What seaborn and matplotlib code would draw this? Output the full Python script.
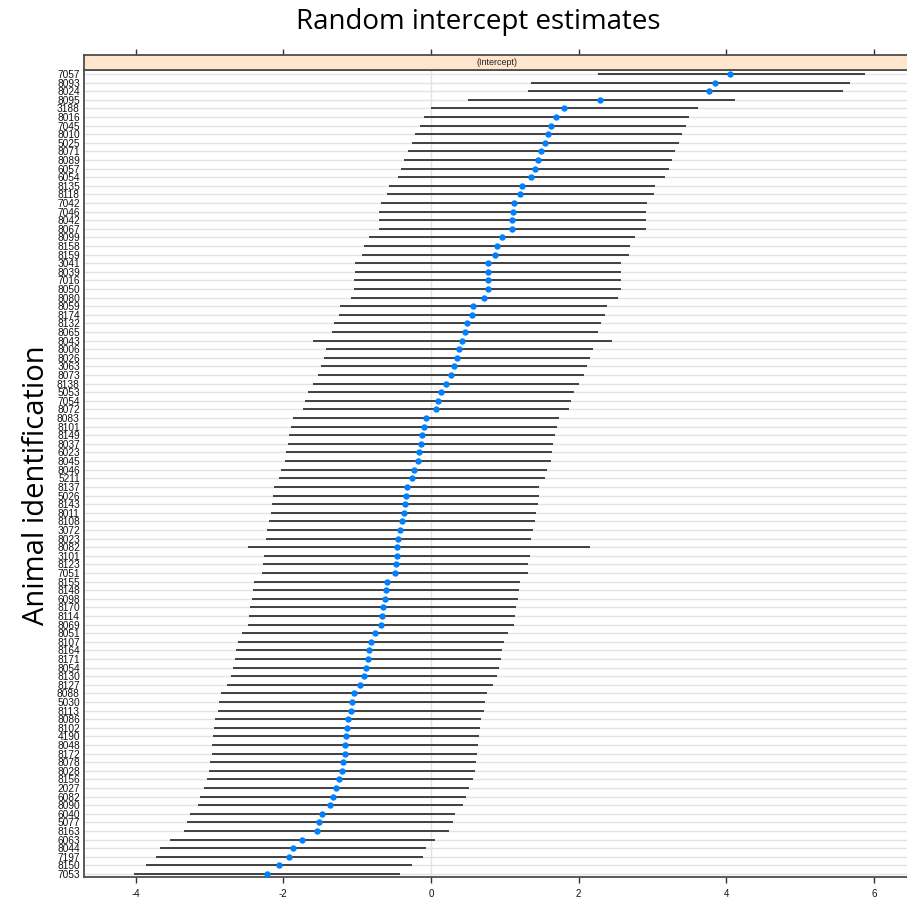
import matplotlib
matplotlib.use("Agg")
import matplotlib.pyplot as plt
import numpy as np
import pandas as pd
import seaborn as sns

### Data: random intercepts per animal (conditional modes with intervals)
ANIMALS = [
    "7057", "8093", "8024", "8095", "3188", "8016", "7045", "8010", "5025", "8071",
    "8089", "6057", "6054", "8135", "8118", "7042", "7046", "8042", "8067", "8099",
    "8158", "8159", "3041", "8039", "7016", "8050", "8080", "8059", "8174", "8132",
    "8065", "8043", "8006", "8026", "3063", "8073", "8138", "5053", "7054", "8072",
    "8083", "8101", "8149", "8037", "6023", "8045", "8046", "5211", "8137", "5026",
    "8143", "8011", "8108", "3072", "8023", "8082", "3101", "8123", "7051", "8155",
    "8148", "6098", "8170", "8114", "8069", "8051", "8107", "8164", "8171", "8054",
    "8130", "8127", "8088", "5030", "8113", "8086", "8102", "4190", "8048", "8172",
    "8078", "8028", "8156", "2027", "6082", "8090", "6040", "5077", "8163", "6063",
    "8044", "7197", "8150", "7053",
]

ESTIMATES = [
    4.05, 3.85, 3.77, 2.29, 1.80, 1.70, 1.63, 1.58, 1.55, 1.49,
    1.45, 1.41, 1.36, 1.23, 1.21, 1.12, 1.11, 1.10, 1.10, 0.96,
    0.89, 0.87, 0.77, 0.77, 0.77, 0.77, 0.72, 0.57, 0.56, 0.49,
    0.46, 0.42, 0.38, 0.35, 0.31, 0.27, 0.20, 0.14, 0.10, 0.07,
    -0.07, -0.09, -0.12, -0.14, -0.16, -0.18, -0.23, -0.26, -0.33, -0.34,
    -0.35, -0.37, -0.39, -0.42, -0.44, -0.46, -0.46, -0.48, -0.49, -0.60,
    -0.61, -0.62, -0.65, -0.66, -0.68, -0.76, -0.81, -0.84, -0.85, -0.88,
    -0.91, -0.96, -1.04, -1.07, -1.08, -1.12, -1.14, -1.15, -1.16, -1.17,
    -1.19, -1.21, -1.24, -1.29, -1.33, -1.37, -1.47, -1.51, -1.55, -1.74,
    -1.87, -1.92, -2.06, -2.22,
]

LOWER = [
    2.26, 1.35, 1.31, 0.50, 0.00, -0.10, -0.15, -0.22, -0.25, -0.31,
    -0.36, -0.40, -0.45, -0.57, -0.60, -0.68, -0.70, -0.71, -0.71, -0.84,
    -0.91, -0.93, -1.03, -1.03, -1.04, -1.04, -1.08, -1.23, -1.25, -1.31,
    -1.34, -1.60, -1.42, -1.45, -1.49, -1.53, -1.60, -1.66, -1.70, -1.73,
    -1.87, -1.89, -1.92, -1.94, -1.96, -1.98, -2.03, -2.06, -2.13, -2.14,
    -2.15, -2.17, -2.19, -2.22, -2.24, -2.48, -2.26, -2.28, -2.29, -2.40,
    -2.41, -2.42, -2.45, -2.46, -2.48, -2.56, -2.61, -2.64, -2.65, -2.68,
    -2.71, -2.76, -2.84, -2.87, -2.88, -2.92, -2.94, -2.95, -2.96, -2.97,
    -2.99, -3.01, -3.03, -3.08, -3.13, -3.16, -3.26, -3.30, -3.34, -3.53,
    -3.67, -3.72, -3.86, -4.02,
]

UPPER = [
    5.88, 5.68, 5.58, 4.12, 3.62, 3.50, 3.45, 3.40, 3.36, 3.30,
    3.26, 3.22, 3.17, 3.04, 3.02, 2.93, 2.92, 2.91, 2.91, 2.77,
    2.70, 2.68, 2.58, 2.58, 2.58, 2.57, 2.53, 2.38, 2.36, 2.30,
    2.27, 2.45, 2.19, 2.15, 2.11, 2.07, 2.00, 1.94, 1.90, 1.87,
    1.73, 1.71, 1.68, 1.66, 1.64, 1.62, 1.57, 1.54, 1.47, 1.46,
    1.45, 1.43, 1.41, 1.38, 1.36, 2.15, 1.34, 1.32, 1.31, 1.20,
    1.19, 1.18, 1.15, 1.14, 1.12, 1.04, 0.99, 0.96, 0.95, 0.92,
    0.89, 0.84, 0.76, 0.73, 0.72, 0.68, 0.66, 0.65, 0.64, 0.63,
    0.61, 0.60, 0.57, 0.52, 0.47, 0.44, 0.32, 0.30, 0.25, 0.05,
    -0.07, -0.11, -0.25, -0.42,
]

X_TICKS = [-4, -2, 0, 2, 4, 6]

### Colours in lattice style
DOT = "#0080ff"
SEGMENT = "#3a3a3a"
REFLINE = "#e3e3e3"
STRIP = "#ffe5cc"
FRAME = "#4d4d4d"

df = pd.DataFrame({"animal": ANIMALS, "estimate": ESTIMATES,
                   "lower": LOWER, "upper": UPPER})
df["pos"] = np.arange(len(df))

sns.set_theme(style="white")
plt.rcParams["font.family"] = ["Liberation Sans", "DejaVu Sans"]

W, H = 907, 899
fig = plt.figure(figsize=(W / 100, H / 100), dpi=100)

# Panel spans past the right edge of the image, like the original
ax = fig.add_axes([84 / W, 1 - 877.4 / H, 826 / W, (877.4 - 70) / H])
strip = fig.add_axes([84 / W, 1 - 70 / H, 826 / W, 15 / H])

## Reference lines per row and at zero
for p in df["pos"]:
    ax.axhline(p, color=REFLINE, linewidth=1.0, zorder=0)
ax.axvline(0, color=REFLINE, linewidth=1.0, zorder=0)

## Intervals and points
ax.hlines(df["pos"], df["lower"], df["upper"], color=SEGMENT,
          linewidth=1.35, zorder=2)
sns.scatterplot(data=df, x="estimate", y="pos", color=DOT, s=21,
                edgecolor=DOT, linewidth=0, zorder=3, ax=ax, legend=False)

ax.set_xlim(-4.70, 6.49)
ax.set_ylim(len(df) - 1 + 0.4, -0.47)
ax.set_yticks(df["pos"])
ax.set_yticklabels(df["animal"], fontsize=7.3, color="#111111")
ax.set_xticks(X_TICKS)
ax.set_xticklabels([str(t) for t in X_TICKS], fontsize=7, color="#111111")
ax.tick_params(axis="y", length=0, pad=3)
ax.tick_params(axis="x", length=4, width=1, color="#333333", pad=4,
               direction="out", bottom=True)
ax.set_xlabel("")
ax.set_ylabel("")
for s in ax.spines.values():
    s.set_color(FRAME)
    s.set_linewidth(1.3)

## Strip with panel name, top ticks above it
strip.set_facecolor(STRIP)
strip.set_xlim(ax.get_xlim())
strip.set_ylim(0, 1)
strip.set_yticks([])
strip.set_xticks(X_TICKS)
strip.tick_params(axis="x", top=True, bottom=False, labeltop=False,
                  labelbottom=False, length=4, width=1, color="#333333",
                  direction="out")
for s in strip.spines.values():
    s.set_color(FRAME)
    s.set_linewidth(1.3)
strip.text(0.5, 0.5, "(Intercept)", transform=strip.transAxes,
           ha="center", va="center", fontsize=6.5, color="#222222")

## Titles
fig.text(478 / W, 1 - 22 / H, "Random intercept estimates", ha="center",
         va="center", fontsize=20, family=["Open Sans", "DejaVu Sans"],
         color="black")
fig.text(37 / W, 1 - 485 / H, "Animal identification", ha="center",
         va="center", rotation=90, fontsize=21,
         family=["Open Sans", "DejaVu Sans"], color="black")

fig.savefig("out.png", dpi=100)
